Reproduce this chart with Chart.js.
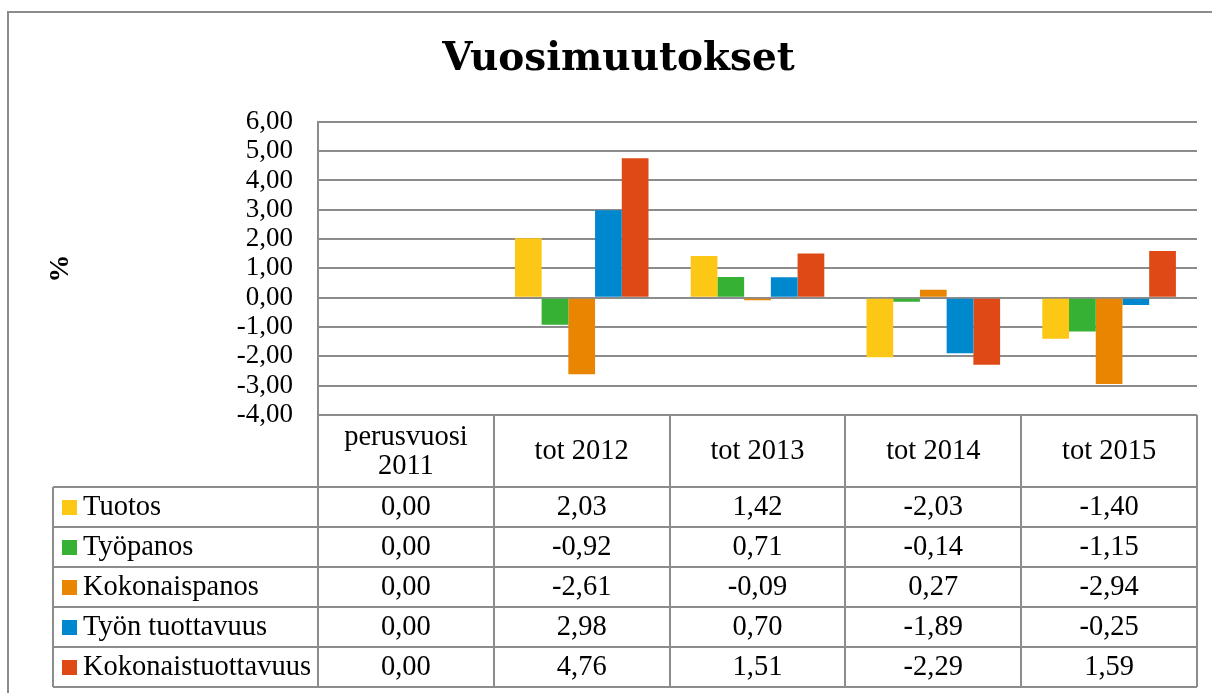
<!DOCTYPE html>
<html>
<head>
<meta charset="utf-8">
<title>Vuosimuutokset</title>
<script src="https://cdn.jsdelivr.net/npm/chart.js@4/dist/chart.umd.min.js"></script>
<style>
    body { margin: 0; background: #fff; }
    #wrap { width: 1212px; height: 693px; position: relative; }
</style>
</head>
<body>
<div id="wrap"><canvas id="barChartVuosi"></canvas></div>
<script>
const categories = ['perusvuosi 2011', 'tot 2012', 'tot 2013', 'tot 2014', 'tot 2015'];
const headerLines = [['perusvuosi', '2011'], ['tot 2012'], ['tot 2013'], ['tot 2014'], ['tot 2015']];
const seriesNames = ['Tuotos', 'Työpanos', 'Kokonaispanos', 'Työn tuottavuus', 'Kokonaistuottavuus'];
const tuotos = [0.00, 2.03, 1.42, -2.03, -1.40];
const tyopanos = [0.00, -0.92, 0.71, -0.14, -1.15];
const kokonaispanos = [0.00, -2.61, -0.09, 0.27, -2.94];
const tyonTuottavuus = [0.00, 2.98, 0.70, -1.89, -0.25];
const kokonaistuottavuus = [0.00, 4.76, 1.51, -2.29, 1.59];
const seriesColors = ['#fcc715', '#36b134', '#e98500', '#0088cf', '#de4916'];
const yTicks = [6, 5, 4, 3, 2, 1, 0, -1, -2, -3, -4];

const allSeries = [tuotos, tyopanos, kokonaispanos, tyonTuottavuus, kokonaistuottavuus];
const bodyFont = '28.5px "Liberation Serif", serif';
const lineGray = '#8c8c8c';

function fmt(v) {
    return v.toFixed(2).replace('.', ',');
}

// outer frame of the chart object
const framePlugin = {
    id: 'frame',
    beforeDraw(chart) {
        const ctx = chart.ctx;
        ctx.save();
        ctx.strokeStyle = lineGray;
        ctx.lineWidth = 2;
        ctx.beginPath();
        ctx.moveTo(8, 700);
        ctx.lineTo(8, 12);
        ctx.lineTo(1220, 12);
        ctx.stroke();
        ctx.restore();
    }
};

// data table under the plot, columns follow the x scale
const tablePlugin = {
    id: 'dataTable',
    afterDraw(chart) {
        const ctx = chart.ctx;
        const x = chart.scales.x;
        const area = chart.chartArea;
        const half = (x.getPixelForValue(1) - x.getPixelForValue(0)) / 2;
        const headTop = area.bottom;
        const headH = 72;
        const rowH = 40;
        const legendLeft = 53;
        const tableBottom = headTop + headH + rowH * seriesNames.length;

        ctx.save();
        ctx.strokeStyle = lineGray;
        ctx.lineWidth = 2;

        // vertical lines of the value columns
        for (let i = 0; i <= categories.length; i++) {
            const px = Math.round(x.getPixelForValue(0) - half + i * half * 2);
            ctx.beginPath();
            ctx.moveTo(px, headTop);
            ctx.lineTo(px, tableBottom);
            ctx.stroke();
        }
        // legend column
        ctx.beginPath();
        ctx.moveTo(legendLeft, headTop + headH);
        ctx.lineTo(legendLeft, tableBottom);
        ctx.stroke();
        for (let r = 0; r <= seriesNames.length; r++) {
            const py = headTop + headH + r * rowH;
            ctx.beginPath();
            ctx.moveTo(legendLeft, py);
            ctx.lineTo(area.right, py);
            ctx.stroke();
        }

        ctx.fillStyle = '#000';
        ctx.font = bodyFont;
        ctx.textAlign = 'center';
        ctx.textBaseline = 'middle';

        // header
        headerLines.forEach((lines, i) => {
            const cx = x.getPixelForValue(i);
            const mid = headTop + headH / 2 + 1;
            lines.forEach((t, k) => {
                const off = (k - (lines.length - 1) / 2) * 29;
                ctx.fillText(t, cx, mid + off);
            });
        });

        // rows
        seriesNames.forEach((name, r) => {
            const cy = headTop + headH + r * rowH + rowH / 2 + 1;
            ctx.fillStyle = seriesColors[r];
            ctx.fillRect(legendLeft + 9, cy - 8, 15, 15);
            ctx.fillStyle = '#000';
            ctx.textAlign = 'left';
            ctx.fillText(name, legendLeft + 30, cy);
            ctx.textAlign = 'center';
            allSeries[r].forEach((v, i) => {
                ctx.fillText(fmt(v), x.getPixelForValue(i), cy);
            });
        });
        ctx.restore();
    }
};

const ctx = document.getElementById('barChartVuosi').getContext('2d');

new Chart(ctx, {
    type: 'bar',
    data: {
        labels: categories,
        datasets: seriesNames.map((name, i) => ({
            label: name,
            data: allSeries[i],
            backgroundColor: seriesColors[i],
            borderWidth: 0,
            categoryPercentage: 0.76,
            barPercentage: 1.0
        }))
    },
    options: {
        responsive: true,
        maintainAspectRatio: false,
        animation: false,
        layout: {
            padding: { left: 40, right: 15, top: 0, bottom: 278 }
        },
        plugins: {
            legend: { display: false },
            tooltip: { enabled: false },
            title: {
                display: true,
                text: 'Vuosimuutokset',
                color: '#000',
                font: { family: '"DejaVu Serif", serif', size: 39, weight: 'bold' },
                padding: { top: 36, bottom: 39 }
            }
        },
        scales: {
            x: {
                display: false
            },
            y: {
                min: -4,
                max: 6,
                afterFit(scale) {
                    scale.width = 278;
                },
                afterBuildTicks(scale) {
                    scale.ticks = yTicks.map(v => ({ value: v }));
                },
                ticks: {
                    color: '#000',
                    autoSkip: false,
                    font: { family: '"Liberation Serif", serif', size: 27 },
                    padding: 25,
                    callback: v => fmt(v)
                },
                grid: {
                    color: lineGray,
                    lineWidth: 2,
                    drawTicks: false
                },
                border: { color: lineGray, width: 2 },
                title: {
                    display: true,
                    text: '%',
                    color: '#000',
                    font: { family: '"Liberation Serif", serif', size: 28, weight: 'bold' },
                    padding: { top: 4, bottom: 0 }
                }
            }
        }
    },
    plugins: [framePlugin, tablePlugin]
});
</script>
</body>
</html>
